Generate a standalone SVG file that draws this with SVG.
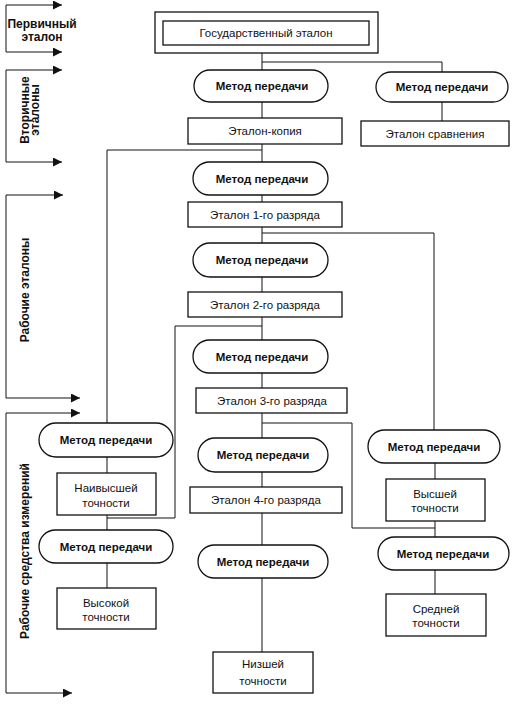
<svg xmlns="http://www.w3.org/2000/svg" width="518" height="709" viewBox="0 0 518 709">
<style>
.box{fill:#fff;stroke:#111;stroke-width:1.3}
.pill{fill:#fff;stroke:#111;stroke-width:1.3}
.ln{fill:none;stroke:#111;stroke-width:1}
.br{fill:none;stroke:#111;stroke-width:1}
.t{font-family:"Liberation Sans",Arial,sans-serif;font-size:11.5px;fill:#111;text-anchor:middle}
.b{font-family:"Liberation Sans",Arial,sans-serif;font-size:12px;font-weight:bold;fill:#111;text-anchor:middle}
.p{font-family:"Liberation Sans",Arial,sans-serif;font-size:11.5px;font-weight:bold;fill:#111;text-anchor:middle}
</style>
<defs>
<marker id="ah" viewBox="0 0 10 10" refX="10" refY="5" markerWidth="9" markerHeight="9" markerUnits="userSpaceOnUse" orient="auto">
<path d="M0,0 L10,5 L0,10 z" fill="#111"/>
</marker>
</defs>
<rect width="518" height="709" fill="#fff"/>

<g id="brackets">
<polyline class="br" points="6,5 6,52 62,52" marker-end="url(#ah)"/>
<line class="br" x1="6" y1="5" x2="62" y2="5" marker-end="url(#ah)"/>
<polyline class="br" points="6,70 6,162 62,162" marker-end="url(#ah)"/>
<line class="br" x1="6" y1="70" x2="62" y2="70" marker-end="url(#ah)"/>
<polyline class="br" points="6,195 6,398 80,398" marker-end="url(#ah)"/>
<line class="br" x1="6" y1="195" x2="63" y2="195" marker-end="url(#ah)"/>
<polyline class="br" points="6,413 6,693 72,693" marker-end="url(#ah)"/>
<line class="br" x1="6" y1="413" x2="80" y2="413" marker-end="url(#ah)"/>
</g>

<g id="labels">
<text class="b" x="42" y="28">Первичный</text>
<text class="b" x="42" y="41">эталон</text>
<text class="b" transform="translate(29,110) rotate(-90)">Вторичные</text>
<text class="b" transform="translate(39,110) rotate(-90)">эталоны</text>
<text class="b" transform="translate(29,290) rotate(-90)">Рабочие эталоны</text>
<text class="b" transform="translate(29,551) rotate(-90)">Рабочие средства измерений</text>
</g>

<g id="connectors">
<polyline class="ln" points="262,53 262,62 442,62 442,72"/>
<line class="ln" x1="262" y1="62" x2="262" y2="70"/>
<line class="ln" x1="262" y1="102" x2="262" y2="118"/>
<line class="ln" x1="442" y1="102" x2="442" y2="121"/>
<line class="ln" x1="262" y1="144" x2="262" y2="162"/>
<polyline class="ln" points="262,150 107,150 107,423"/>
<line class="ln" x1="262" y1="195" x2="262" y2="202"/>
<line class="ln" x1="262" y1="227" x2="262" y2="243"/>
<polyline class="ln" points="262,233 434,233 434,430"/>
<line class="ln" x1="262" y1="277" x2="262" y2="292"/>
<line class="ln" x1="262" y1="317" x2="262" y2="340"/>
<polyline class="ln" points="262,326 175,326 175,518 107,518"/>
<line class="ln" x1="262" y1="373" x2="262" y2="388"/>
<line class="ln" x1="262" y1="413" x2="262" y2="438"/>
<polyline class="ln" points="262,423 352,423 352,528 435,528"/>
<line class="ln" x1="262" y1="472" x2="262" y2="487"/>
<line class="ln" x1="262" y1="513" x2="262" y2="545"/>
<line class="ln" x1="262" y1="578" x2="262" y2="652"/>
<line class="ln" x1="107" y1="457" x2="107" y2="473"/>
<line class="ln" x1="107" y1="515" x2="107" y2="530"/>
<line class="ln" x1="107" y1="563" x2="107" y2="588"/>
<line class="ln" x1="435" y1="463" x2="435" y2="479"/>
<line class="ln" x1="435" y1="521" x2="435" y2="537"/>
<line class="ln" x1="435" y1="570" x2="435" y2="594"/>
</g>

<g id="gos">
<rect class="box" x="155" y="12" width="223" height="41"/>
<rect class="box" x="163" y="21" width="206" height="24"/>
<text class="t" x="266" y="37">Государственный эталон</text>
</g>

<g id="m1"><rect class="pill" x="194" y="70" width="134" height="32" rx="16"/><text class="p" x="262" y="90">Метод передачи</text></g>
<g id="m2"><rect class="pill" x="376" y="72" width="132" height="30" rx="15"/><text class="p" x="442" y="91">Метод передачи</text></g>
<g id="kopiya"><rect class="box" x="188" y="118" width="154" height="26"/><text class="t" x="265" y="135">Эталон-копия</text></g>
<g id="sravn"><rect class="box" x="361" y="121" width="148" height="25"/><text class="t" x="435" y="138">Эталон сравнения</text></g>
<g id="m3"><rect class="pill" x="193" y="162" width="135" height="33" rx="16.5"/><text class="p" x="262" y="183">Метод передачи</text></g>
<g id="r1"><rect class="box" x="188" y="202" width="154" height="25"/><text class="t" x="265" y="219">Эталон 1-го разряда</text></g>
<g id="m4"><rect class="pill" x="193" y="243" width="135" height="34" rx="17"/><text class="p" x="262" y="264">Метод передачи</text></g>
<g id="r2"><rect class="box" x="188" y="292" width="154" height="25"/><text class="t" x="265" y="309">Эталон 2-го разряда</text></g>
<g id="m5"><rect class="pill" x="193" y="340" width="135" height="33" rx="16.5"/><text class="p" x="262" y="361">Метод передачи</text></g>
<g id="r3"><rect class="box" x="196" y="388" width="151" height="25"/><text class="t" x="272" y="405">Эталон 3-го разряда</text></g>
<g id="m6"><rect class="pill" x="198" y="438" width="130" height="34" rx="17"/><text class="p" x="263" y="459">Метод передачи</text></g>
<g id="r4"><rect class="box" x="190" y="487" width="152" height="26"/><text class="t" x="266" y="504">Эталон 4-го разряда</text></g>
<g id="m7"><rect class="pill" x="198" y="545" width="130" height="33" rx="16.5"/><text class="p" x="263" y="566">Метод передачи</text></g>
<g id="nizsh"><rect class="box" x="213" y="652" width="100" height="41"/><text class="t" x="263" y="668">Низшей</text><text class="t" x="263" y="685">точности</text></g>

<g id="mL1"><rect class="pill" x="39" y="423" width="134" height="34" rx="17"/><text class="p" x="106" y="444">Метод передачи</text></g>
<g id="naivys"><rect class="box" x="57" y="473" width="99" height="42"/><text class="t" x="106" y="492">Наивысшей</text><text class="t" x="106" y="507">точности</text></g>
<g id="mL2"><rect class="pill" x="39" y="530" width="134" height="33" rx="16.5"/><text class="p" x="106" y="551">Метод передачи</text></g>
<g id="vysok"><rect class="box" x="57" y="588" width="99" height="41"/><text class="t" x="106" y="607">Высокой</text><text class="t" x="106" y="621">точности</text></g>

<g id="mR1"><rect class="pill" x="368" y="430" width="132" height="33" rx="16.5"/><text class="p" x="434" y="451">Метод передачи</text></g>
<g id="vyssh"><rect class="box" x="386" y="479" width="99" height="42"/><text class="t" x="435" y="498">Высшей</text><text class="t" x="435" y="512">точности</text></g>
<g id="mR2"><rect class="pill" x="378" y="537" width="131" height="33" rx="16.5"/><text class="p" x="443" y="558">Метод передачи</text></g>
<g id="sredn"><rect class="box" x="386" y="594" width="100" height="42"/><text class="t" x="436" y="613">Средней</text><text class="t" x="436" y="627">точности</text></g>
</svg>
